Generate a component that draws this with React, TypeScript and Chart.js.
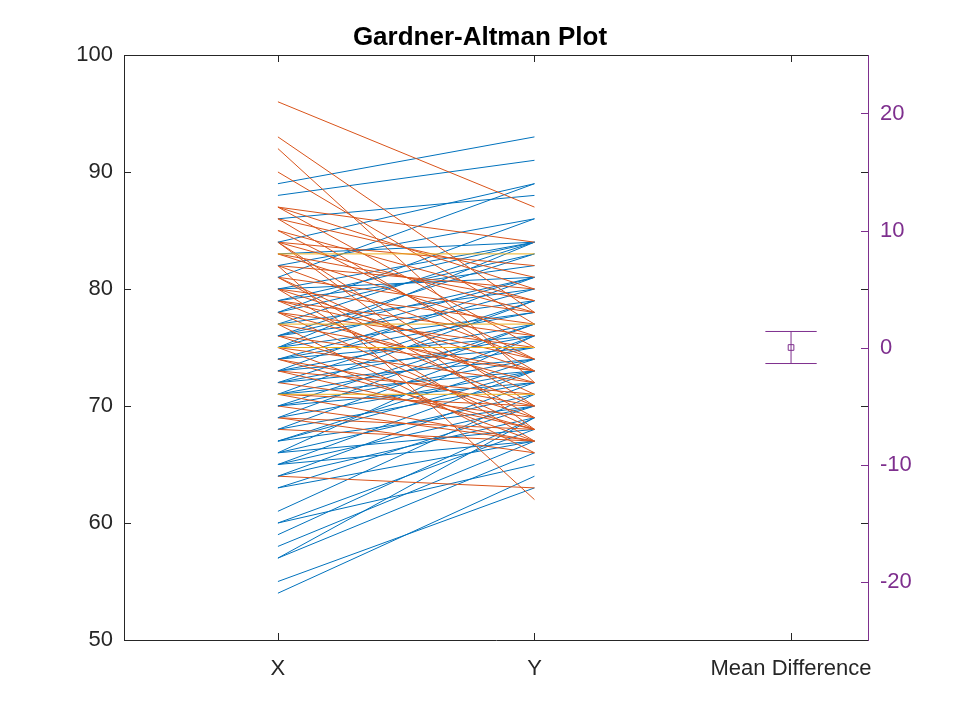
import React, { useEffect, useRef } from "react";
import { Chart, registerables } from "chart.js";

Chart.register(...registerables);

// Paired observations: value at X and value at Y for each subject
const valuesX = [
  96, 93, 92, 90, 89, 88, 87, 87, 87, 86,
  86, 86, 85, 85, 84, 84, 84, 84, 84, 83,
  83, 83, 83, 82, 82, 82, 82, 81, 81, 81,
  81, 80, 80, 80, 80, 80, 79, 79, 79, 79,
  79, 78, 78, 78, 78, 78, 77, 77, 77, 77,
  77, 76, 76, 76, 76, 76, 75, 75, 75, 75,
  75, 75, 74, 74, 74, 74, 74, 73, 73, 73,
  73, 73, 72, 72, 72, 72, 71, 71, 71, 71,
  71, 71, 70, 70, 70, 70, 69, 69, 69, 69,
  68, 68, 68, 67, 67, 67, 66, 66, 66, 65,
  65, 65, 64, 64, 64, 63, 63, 61, 60, 60,
  59, 58, 57, 57, 55, 54,
];
const valuesY = [
  87, 78, 72, 77, 93, 91, 84, 80, 75, 81,
  73, 88, 74, 79, 89, 82, 78, 70, 68, 83,
  79, 76, 84, 62, 86, 80, 74, 89, 78, 71,
  69, 84, 77, 73, 81, 67, 84, 76, 74, 82,
  70, 86, 75, 72, 83, 68, 84, 77, 73, 80,
  66, 83, 73, 81, 69, 79, 84, 75, 72, 81,
  67, 78, 80, 70, 78, 68, 76, 81, 71, 77,
  68, 75, 79, 69, 76, 74, 79, 71, 70, 75,
  67, 73, 77, 67, 74, 72, 77, 68, 73, 66,
  76, 67, 72, 74, 73, 70, 76, 71, 68, 73,
  70, 67, 72, 63, 69, 70, 67, 71, 68, 65,
  69, 67, 69, 66, 63, 64,
];

const categoryLabels = ["X", "Y", "Mean Difference"];
const categoryPositions = [1, 2, 3];
const leftTicks = [50, 60, 70, 80, 90, 100];
const rightTicks = [-20, -10, 0, 10, 20];

// Mean difference with its confidence interval (right axis)
const meanDiff = 0.0;
const ciLow = -1.37;
const ciHigh = 1.37;

const BLUE = "#0072BD";
const ORANGE = "#D95319";
const YELLOW = "#EDB120";
const PURPLE = "#7E2F8E";
const AXIS = "#262626";
const FONT = "'Liberation Sans', Arial, Helvetica, sans-serif";

const innerTicks = {
  id: "innerTicks",
  afterDraw(chart: any) {
    const { ctx, chartArea, scales } = chart;
    const len = 7;
    ctx.save();
    ctx.lineWidth = 1;
    ctx.strokeStyle = AXIS;
    ctx.beginPath();
    ctx.moveTo(chartArea.left, chartArea.top + 0.5);
    ctx.lineTo(chartArea.right, chartArea.top + 0.5);
    ctx.stroke();
    ctx.beginPath();
    categoryPositions.forEach((v) => {
      const px = Math.round(scales.x.getPixelForValue(v)) + 0.5;
      ctx.moveTo(px, chartArea.bottom);
      ctx.lineTo(px, chartArea.bottom - len);
      ctx.moveTo(px, chartArea.top);
      ctx.lineTo(px, chartArea.top + len);
    });
    leftTicks.forEach((v) => {
      const py = Math.round(scales.y.getPixelForValue(v)) + 0.5;
      ctx.moveTo(chartArea.left, py);
      ctx.lineTo(chartArea.left + len, py);
      ctx.moveTo(chartArea.right, py);
      ctx.lineTo(chartArea.right - len, py);
    });
    ctx.stroke();
    ctx.strokeStyle = PURPLE;
    ctx.beginPath();
    rightTicks.forEach((v) => {
      const py = Math.round(scales.y2.getPixelForValue(v)) + 0.5;
      ctx.moveTo(chartArea.right, py);
      ctx.lineTo(chartArea.right - len, py);
    });
    ctx.stroke();
    ctx.restore();
  },
};

export default function App() {
  const ref = useRef<HTMLCanvasElement | null>(null);

  useEffect(() => {
    document.body.style.margin = "0";
    const datasets: any[] = [];
    valuesX.forEach((a, i) => {
      const b = valuesY[i];
      const color = b > a ? BLUE : b < a ? ORANGE : YELLOW;
      datasets.push({
        type: "line",
        data: [
          { x: categoryPositions[0], y: a },
          { x: categoryPositions[1], y: b },
        ],
        borderColor: color,
        borderWidth: 1,
        pointRadius: 0,
        yAxisID: "y",
        xAxisID: "x",
        order: b === a ? 0 : 1,
      });
    });
    const md = categoryPositions[2];
    const capHalf = 0.1;
    const seg = (pts: any[]) => ({
      type: "line",
      data: pts,
      borderColor: PURPLE,
      borderWidth: 1,
      pointRadius: 0,
      yAxisID: "y2",
    });
    datasets.push(seg([{ x: md, y: ciLow }, { x: md, y: ciHigh }]));
    datasets.push(seg([{ x: md - capHalf, y: ciHigh }, { x: md + capHalf, y: ciHigh }]));
    datasets.push(seg([{ x: md - capHalf, y: ciLow }, { x: md + capHalf, y: ciLow }]));
    datasets.push({
      type: "line",
      data: [{ x: md, y: meanDiff }],
      borderColor: PURPLE,
      backgroundColor: "#ffffff",
      pointStyle: "rect",
      pointRadius: 4,
      pointBorderWidth: 1,
      showLine: false,
      yAxisID: "y2",
    });

    const chart = new Chart(ref.current as HTMLCanvasElement, {
      type: "line",
      data: { datasets },
      options: {
        animation: false,
        responsive: false,
        devicePixelRatio: 1,
        layout: { padding: 0 },
        plugins: {
          legend: { display: false },
          tooltip: { enabled: false },
          title: {
            display: true,
            text: "Gardner-Altman Plot",
            color: "#000000",
            font: { family: FONT, size: 26, weight: "bold", lineHeight: 1.2 },
            padding: { top: 22, bottom: 1.8 },
          },
        },
        scales: {
          x: {
            type: "linear",
            min: 0.4,
            max: 3.3,
            grid: { display: false, drawTicks: false },
            border: { display: true, color: AXIS, width: 1 },
            afterBuildTicks: (s: any) => {
              s.ticks = categoryPositions.map((v) => ({ value: v }));
            },
            afterFit: (s: any) => {
              s.height = 80;
            },
            ticks: {
              autoSkip: false,
              maxRotation: 0,
              padding: 16,
              color: AXIS,
              font: { family: FONT, size: 22 },
              callback: (v: any) => {
                const idx = categoryPositions.indexOf(Number(v));
                return idx >= 0 ? categoryLabels[idx] : "";
              },
            },
          },
          y: {
            type: "linear",
            position: "left",
            min: 50,
            max: 100,
            grid: { display: false, drawTicks: false },
            border: { display: true, color: AXIS, width: 1 },
            afterBuildTicks: (s: any) => {
              s.ticks = leftTicks.map((v) => ({ value: v }));
            },
            afterFit: (s: any) => {
              s.width = 124;
            },
            ticks: {
              padding: 11,
              color: AXIS,
              font: { family: FONT, size: 22 },
            },
          },
          y2: {
            type: "linear",
            position: "right",
            min: -25,
            max: 25,
            grid: { display: false, drawTicks: false },
            border: { display: true, color: PURPLE, width: 1 },
            afterBuildTicks: (s: any) => {
              s.ticks = rightTicks.map((v) => ({ value: v }));
            },
            afterFit: (s: any) => {
              s.width = 92;
            },
            ticks: {
              padding: 12,
              color: PURPLE,
              font: { family: FONT, size: 22 },
            },
          },
        },
      },
      plugins: [innerTicks],
    });
    return () => chart.destroy();
  }, []);

  return (
    <div style={{ position: "absolute", left: 0, top: 0, width: 960, height: 720, background: "#ffffff" }}>
      <canvas ref={ref} width={960} height={720} style={{ width: 960, height: 720 }} />
    </div>
  );
}
